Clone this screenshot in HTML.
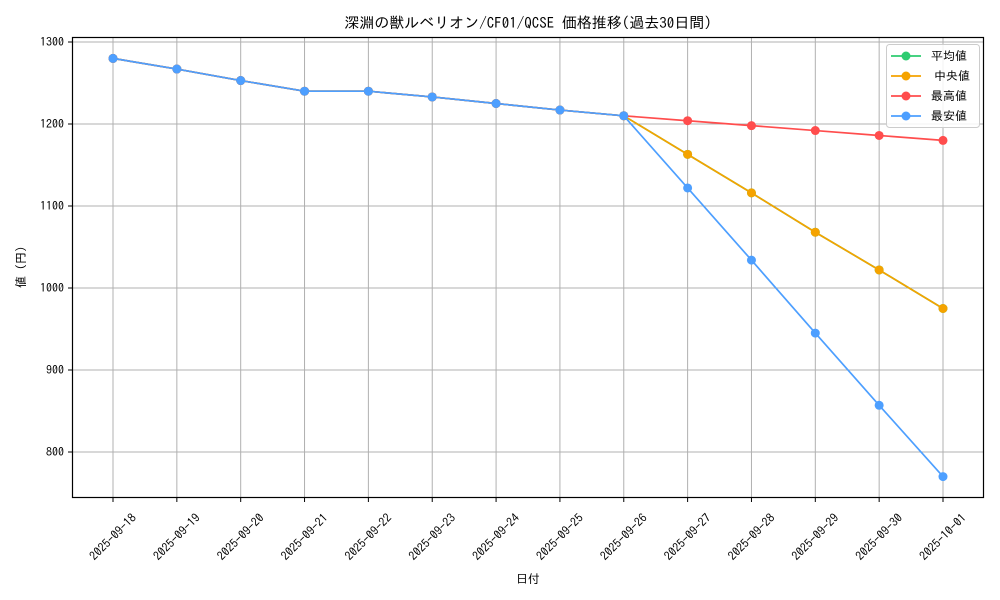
<!DOCTYPE html>
<html><head><meta charset="utf-8"><style>
html,body{margin:0;padding:0;background:#fff}
svg{display:block;font-family:"IPAGothic","Liberation Sans","Noto Sans CJK JP",sans-serif}
</style></head><body>
<svg id="chart" width="1000" height="600">
<rect x="0" y="0" width="1000" height="600" fill="#fff"/>
<g id="grid"></g>
<g id="series"></g>
<rect x="72.5" y="37.5" width="911" height="460" fill="none" stroke="#000" stroke-width="1.2"/>
<g id="axes"></g>
<text x="528" y="28" font-size="15" text-anchor="middle">深淵の獣ルベリオン/CF01/QCSE 価格推移(過去30日間)</text>
<text x="528" y="583" font-size="12" text-anchor="middle">日付</text>
<text x="25" y="267" font-size="12" text-anchor="middle" transform="rotate(-90 25 267)">値 (円)</text>
<g id="legend">
<rect x="886.5" y="44.5" width="93" height="83" rx="3" fill="#fff" fill-opacity="0.85" stroke="#ccc"/>
</g>
</svg>
<script>
const categories=["2025-09-18","2025-09-19","2025-09-20","2025-09-21","2025-09-22","2025-09-23","2025-09-24","2025-09-25","2025-09-26","2025-09-27","2025-09-28","2025-09-29","2025-09-30","2025-10-01"];
const avgValues=[1280,1267,1253,1240,1240,1233,1225,1217,1210,1163,1116,1068,1022,975];
const medianValues=[1280,1267,1253,1240,1240,1233,1225,1217,1210,1163,1116,1068,1022,975];
const maxValues=[1280,1267,1253,1240,1240,1233,1225,1217,1210,1204,1198,1192,1186,1180];
const minValues=[1280,1267,1253,1240,1240,1233,1225,1217,1210,1122,1034,945,857,770];
const yTicks=[800,900,1000,1100,1200,1300];
const seriesNames=["平均値","中央値","最高値","最安値"];
const NS="http://www.w3.org/2000/svg";
function xPos(i){return 113+i*(943-113)/(categories.length-1);}
function yPos(v){return 42+(1300-v)*0.82;}
function mk(tag,attrs,parent){const e=document.createElementNS(NS,tag);for(const k in attrs)e.setAttribute(k,attrs[k]);parent.appendChild(e);return e;}
const grid=document.getElementById('grid'),axes=document.getElementById('axes'),ser=document.getElementById('series'),leg=document.getElementById('legend');
categories.forEach((c,i)=>{const x=xPos(i);
 const g=mk('line',{x1:x,x2:x,y1:37,y2:497,stroke:'#b0b0b0','stroke-width':1},grid);
 
 
 mk('line',{x1:x,x2:x,y1:498,y2:502,stroke:'#000'},axes);
 const t=mk('text',{x:x,y:537,'font-size':12,'text-anchor':'middle','dominant-baseline':'central',transform:`rotate(-45 ${x} 537)`},axes);
 t.textContent=c;
 
 
});
yTicks.forEach(v=>{const y=yPos(v);
 const g=mk('line',{x1:72,x2:984,y1:y,y2:y,stroke:'#b0b0b0','stroke-width':1},grid);
 
 
 mk('line',{x1:68,x2:72,y1:y,y2:y,stroke:'#000'},axes);
 const t=mk('text',{x:64,y:y,'font-size':12,'text-anchor':'end','dominant-baseline':'central'},axes);
 t.textContent=v;
 
 
});
const all=[avgValues,medianValues,maxValues,minValues];
const colors=["#2ecc71","#f5a300","#ff4d4d","#4d9fff"];
all.forEach((vals,s)=>{
 const g=mk('g',{},ser);
 
 
 mk('polyline',{points:vals.map((v,i)=>xPos(i)+','+yPos(v)).join(' '),fill:'none',stroke:colors[s],'stroke-width':1.7},g);
 vals.forEach((v,i)=>{const p=mk('circle',{cx:xPos(i),cy:yPos(v),r:4.5,fill:colors[s]},g);
  
  });
 const ly=56+s*20;
 const le=mk('g',{},leg);
 
 
 mk('line',{x1:891,x2:921,y1:ly,y2:ly,stroke:colors[s],'stroke-width':1.7},le);
 mk('circle',{cx:906,cy:ly,r:4.5,fill:colors[s]},le);
 const t=mk('text',{x:s==1?934:931,y:ly,'font-size':12,'dominant-baseline':'central'},le);
 t.textContent=seriesNames[s];
});
</script>
</body></html>
